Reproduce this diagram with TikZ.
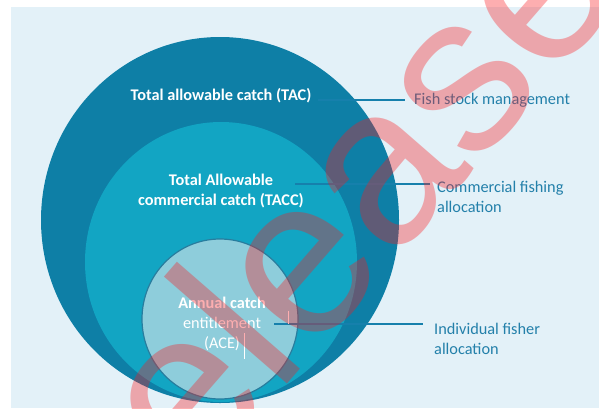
\documentclass[tikz,border=0pt]{standalone}
\usepackage{fontspec}
\setmainfont{Carlito}
\newfontfamily\wmfont{Liberation Sans}
\definecolor{bgc}{RGB}{227,241,248}
\definecolor{outc}{RGB}{14,127,166}
\definecolor{midc}{RGB}{18,165,195}
\definecolor{innc}{RGB}{142,205,219}
\definecolor{innb}{RGB}{40,125,158}
\definecolor{lblc}{RGB}{35,128,170}
\definecolor{linec}{RGB}{22,128,172}
\definecolor{wmc}{RGB}{250,25,30}
\begin{document}
\begin{tikzpicture}[x=1pt,y=-1pt,
  intext/.style={text=white,font=\fontsize{16.3}{20}\selectfont\bfseries,align=center,inner sep=0pt},
  lbl/.style={text=lblc,font=\fontsize{16.3}{20}\selectfont,align=left,inner sep=0pt,anchor=west},
  conn/.style={draw=linec,line width=2.5pt},
  cursor/.style={draw=white,line width=1pt}]
\useasboundingbox (0,0) rectangle (599,408);
\clip (0,0) rectangle (599,408);
\fill[white] (0,0) rectangle (599,408);
\fill[bgc] (11,7) rectangle (599,408);
\fill[outc] (220,220) ellipse [x radius=179pt, y radius=183pt];
\fill[midc] (221,262) ellipse [x radius=136pt, y radius=140pt];
\filldraw[fill=innc,draw=innb,line width=1.2pt] (220,319) ellipse [x radius=78pt, y radius=80pt];
% labels inside
\node[intext] (tac) at (221,96) {Total allowable catch (TAC)};
\node[intext] (tacc) at (221,191) {Total Allowable\\commercial catch (TACC)};
\node[intext] (ace) at (222,324) {Annual catch\\{\mdseries entitlement}\\{\mdseries (ACE)}};
% labels outside
\node[lbl] (fish) at (414,100) {Fish stock management};
\node[lbl] (comm) at (437,197) {Commercial fishing\\allocation};
\node[lbl] (indiv) at (434,339) {Individual fisher\\allocation};
% connectors
\coordinate (tacl) at (318,100);
\coordinate (taccl) at (295,184);
\coordinate (acel) at (274,324);
\draw[conn,shorten >=9pt] (tacl) -- (tacl -| fish.west);
\draw[conn,shorten >=7pt] (taccl) -- (taccl -| comm.west);
\draw[conn,shorten >=11pt] (acel) -- (acel -| indiv.west);
% cursor marks
\draw[cursor] (244,333) -- (244,359);
\draw[cursor] (288,311) -- (288,324);
% watermark
\node[text=wmc,text opacity=0.35,font=\wmfont\fontsize{225}{225}\selectfont,rotate=49,anchor=base west,inner sep=0pt] (wm) at (146,547) {release};
\end{tikzpicture}
\end{document}
